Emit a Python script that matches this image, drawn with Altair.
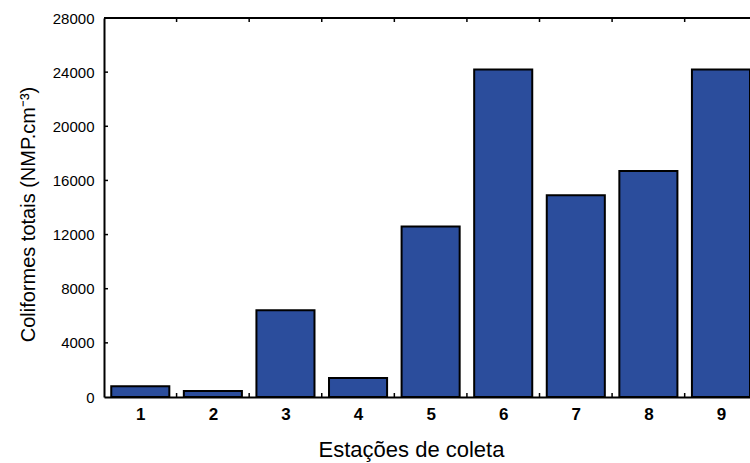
import altair as alt
import pandas as pd

stations = [1, 2, 3, 4, 5, 6, 7, 8, 9]
values = [800, 450, 6400, 1400, 12600, 24200, 14900, 16700, 24200]
y_ticks = [0, 4000, 8000, 12000, 16000, 20000, 24000, 28000]
x_between = [1.5, 2.5, 3.5, 4.5, 5.5, 6.5, 7.5, 8.5]

W, H = 646, 379
FONT = "Liberation Sans"
BAR = "#2b4d9c"

df = pd.DataFrame({"station": stations, "value": values})
df_xt = pd.DataFrame({"pos": x_between})
df_yt = pd.DataFrame({"v": y_ticks[1:]})

xscale = alt.Scale(domain=[0.5, 9.4], nice=False, zero=False)
yscale = alt.Scale(domain=[0, 28000], nice=False)

bars = alt.Chart(df).transform_calculate(
    x0="datum.station - 0.4", x1="datum.station + 0.4"
).mark_bar(fill=BAR, stroke="black", strokeWidth=2, clip=True).encode(
    x=alt.X("x0:Q", scale=xscale, axis=alt.Axis(
        values=stations, format="d", grid=False, ticks=False,
        domainColor="black", domainWidth=2,
        labelFont=FONT, labelFontSize=17, labelFontWeight="bold", labelColor="black",
        labelPadding=9,
        title="Estações de coleta", titleFont=FONT, titleFontSize=22,
        titleFontWeight="normal", titleColor="black",
        titleX=307, titleY=59, titleAlign="center", titleBaseline="alphabetic",
    )),
    x2="x1:Q",
    y=alt.Y("value:Q", scale=yscale, axis=alt.Axis(
        values=y_ticks, format="d", grid=False, ticks=False,
        domainColor="black", domainWidth=2,
        labelFont=FONT, labelFontSize=15, labelColor="black", labelPadding=10,
        title="Coliformes totais (NMP.cm⁻³)", titleFont=FONT, titleFontSize=20,
        titleFontWeight="normal", titleColor="black",
        titleX=-70, titleY=196, titleAlign="center", titleBaseline="alphabetic",
        titleAngle=270,
    )),
    y2=alt.datum(0),
)

top_line = alt.Chart(pd.DataFrame({"a": [0]})).mark_rule(color="black", strokeWidth=2).encode(
    x=alt.value(0), x2=alt.value(W), y=alt.value(0)
)

bottom_ticks = alt.Chart(df_xt).mark_rule(color="black", strokeWidth=1.5).encode(
    x=alt.X("pos:Q", scale=xscale), y=alt.value(H), y2=alt.value(H - 4)
)
top_ticks = alt.Chart(df_xt).mark_rule(color="black", strokeWidth=1.5).encode(
    x=alt.X("pos:Q", scale=xscale), y=alt.value(0), y2=alt.value(4)
)
left_ticks = alt.Chart(df_yt).mark_rule(color="black", strokeWidth=1.5).encode(
    y=alt.Y("v:Q", scale=yscale), x=alt.value(0), x2=alt.value(4)
)

chart = alt.layer(bars, bottom_ticks, top_ticks, left_ticks, top_line).properties(
    width=W, height=H,
    autosize=alt.AutoSizeParams(type="none"),
    padding={"left": 104, "top": 18, "right": 0, "bottom": 66},
    background="white",
).configure_view(stroke=None)

chart.save("out.html", embed_options={"renderer": "svg", "actions": False})
